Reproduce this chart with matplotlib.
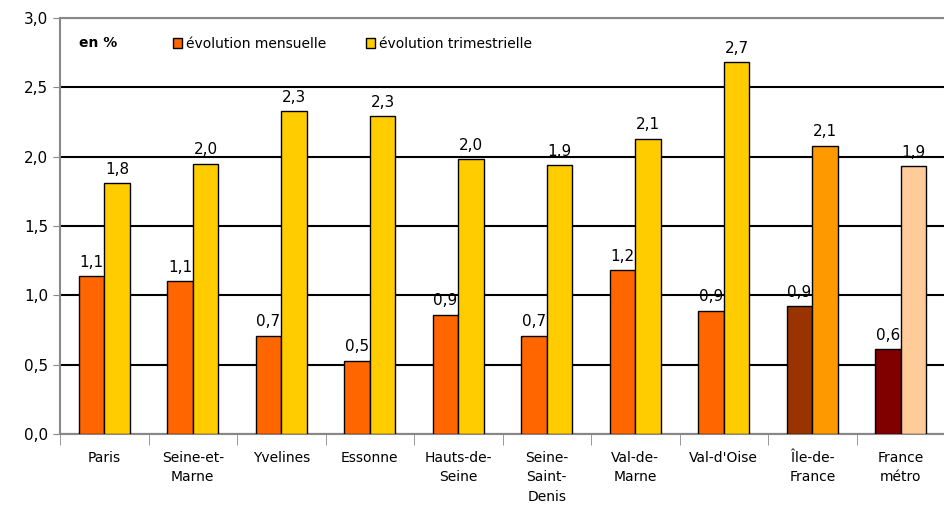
import numpy as np
import matplotlib
matplotlib.use('Agg')
import matplotlib.pyplot as plt
from matplotlib.patches import Patch

# Data
categories = ['Paris', 'Seine-et-\nMarne', 'Yvelines', 'Essonne', 'Hauts-de-\nSeine',
              'Seine-\nSaint-\nDenis', 'Val-de-\nMarne', "Val-d'Oise", 'Île-de-\nFrance', 'France\nmétro']
mensuelle = [1.14, 1.10, 0.71, 0.53, 0.86, 0.71, 1.18, 0.89, 0.92, 0.61]
trimestrielle = [1.81, 1.95, 2.33, 2.29, 1.98, 1.94, 2.13, 2.68, 2.08, 1.93]
mens_labels = ['1,1', '1,1', '0,7', '0,5', '0,9', '0,7', '1,2', '0,9', '0,9', '0,6']
trim_labels = ['1,8', '2,0', '2,3', '2,3', '2,0', '1,9', '2,1', '2,7', '2,1', '1,9']

mens_colors = ['#FF6600'] * 8 + ['#993300', '#800000']
trim_colors = ['#FFCC00'] * 8 + ['#FF9900', '#FFCC99']

plt.rcParams['font.family'] = ['DejaVu Sans']

fig = plt.figure(figsize=(9.45, 5.05), dpi=100)
ax = fig.add_axes([0.0635, 0.1406, 0.9365, 0.8238])

x = np.arange(len(categories))
w = 0.29
ax.bar(x - w / 2, mensuelle, w, color=mens_colors, edgecolor='black', linewidth=1, zorder=3)
ax.bar(x + w / 2, trimestrielle, w, color=trim_colors, edgecolor='black', linewidth=1, zorder=3)

# value labels
for i in range(len(categories)):
    ax.text(x[i] - w / 2, mensuelle[i] + 0.045, mens_labels[i], ha='center', va='bottom', fontsize=11)
    ax.text(x[i] + w / 2, trimestrielle[i] + 0.045, trim_labels[i], ha='center', va='bottom', fontsize=11)

ax.set_xlim(-0.5, len(categories) - 0.5)
ax.set_ylim(0, 3.0)
ax.set_yticks(np.arange(0, 3.01, 0.5))
ax.set_yticklabels([f'{v:.1f}'.replace('.', ',') for v in np.arange(0, 3.01, 0.5)], fontsize=11)

ax.set_xticks(x)
ax.set_xticklabels(categories, fontsize=10, va='top', linespacing=1.5)
ax.tick_params(axis='x', length=0, pad=12)
ax.set_xticks(np.arange(-0.5, len(categories)), minor=True)
ax.tick_params(axis='x', which='minor', length=8, color='#888888')
ax.tick_params(axis='y', length=5, color='#888888')

ax.yaxis.grid(True, color='black', linewidth=1.5, zorder=0)
ax.set_axisbelow(True)
for s in ['left', 'bottom', 'top']:
    ax.spines[s].set_color('#888888')
    ax.spines[s].set_linewidth(1.5)
ax.spines['right'].set_visible(False)

ax.text(0.022, 0.94, 'en %', transform=ax.transAxes, fontsize=10, fontweight='bold', va='center')
handles = [Patch(facecolor='#FF6600', edgecolor='black', label='évolution mensuelle'),
           Patch(facecolor='#FFCC00', edgecolor='black', label='évolution trimestrielle')]
ax.legend(handles=handles, loc='upper left', bbox_to_anchor=(0.113, 0.985), ncol=2, frameon=False,
          fontsize=10, handlelength=0.7, handleheight=0.7, handletextpad=0.3, columnspacing=2.8)

fig.savefig('out.png', dpi=100)
